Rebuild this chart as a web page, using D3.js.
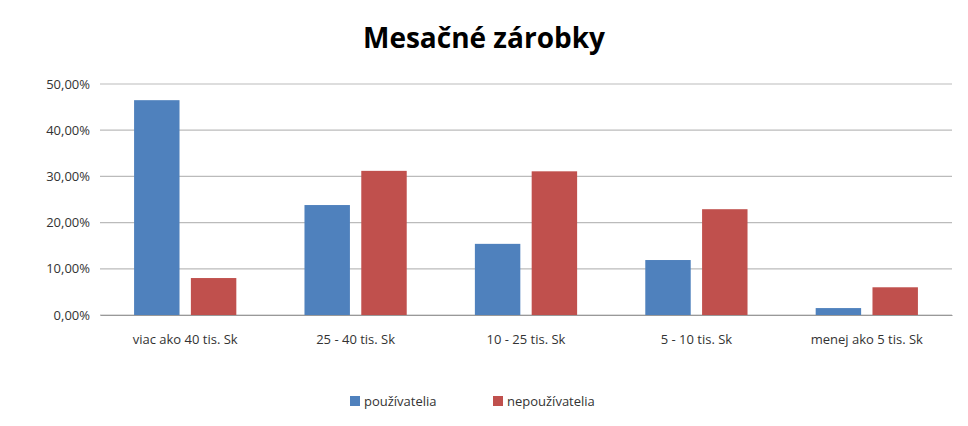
<!DOCTYPE html>
<html><head><meta charset="utf-8">
<script src="https://cdn.jsdelivr.net/npm/d3@7"></script>
<style>body{margin:0;background:#fff}</style></head>
<body><svg id="c" width="968" height="426"></svg>
<script>
const categories=["viac ako 40 tis. Sk","25 - 40 tis. Sk","10 - 25 tis. Sk","5 - 10 tis. Sk","menej ako 5 tis. Sk"];
const seriesNames=["používatelia","nepoužívatelia"];
const pouzivatelia=[46.5,23.8,15.4,11.9,1.5];
const nepouzivatelia=[8.0,31.2,31.1,22.9,6.0];
const yTicks=[0,10,20,30,40,50];
const colors=["#4F81BD","#C0504D"];
const svg=d3.select("#c");
const L=100,R=952,T=84,B=315;
const x=d3.scaleBand().domain(categories).range([L,R]);
const xs=d3.scaleBand().domain(seriesNames).range([0,x.bandwidth()]).paddingInner(0.2).paddingOuter(0.6);
const y=d3.scaleLinear().domain([0,50]).range([B,T]);
const fmt=v=>v.toFixed(2).replace(".",",")+"%";
svg.append("text").attr("x",484).attr("y",48).attr("text-anchor","middle").attr("font-family","Open Sans, sans-serif").attr("font-weight","bold").attr("font-size",28).text("Mesačné zárobky");
const ya=svg.append("g").attr("transform",`translate(${L},0)`).call(d3.axisLeft(y).tickValues(yTicks).tickFormat(fmt).tickSize(0).tickPadding(10));
ya.select(".domain").remove();
ya.selectAll("text").attr("font-family","Open Sans, sans-serif").attr("font-size",13).attr("fill","#333");
svg.append("g").selectAll("line").data(yTicks).join("line").attr("x1",L).attr("x2",R).attr("y1",d=>y(d)).attr("y2",d=>y(d)).attr("stroke","#bbb").attr("stroke-width",1.2);
const data=[pouzivatelia,nepouzivatelia];
data.forEach((arr,si)=>{
 svg.append("g").selectAll("rect").data(arr).join("rect")
  .attr("x",(d,i)=>x(categories[i])+xs(seriesNames[si])).attr("width",xs.bandwidth())
  .attr("y",d=>y(d)).attr("height",d=>B-y(d)).attr("fill",colors[si]);
});
const xa=svg.append("g").attr("transform",`translate(0,${B})`).call(d3.axisBottom(x).tickSize(0).tickPadding(20));
xa.select(".domain").attr("stroke","#999");
xa.selectAll("text").attr("font-family","Open Sans, sans-serif").attr("font-size",13).attr("fill","#333");
const lg=svg.append("g");
[[350,seriesNames[0]],[493,seriesNames[1]]].forEach(([lx,n],i)=>{
 lg.append("rect").attr("x",lx).attr("y",396).attr("width",10).attr("height",10).attr("fill",colors[i]);
 lg.append("text").attr("x",lx+14).attr("y",406).attr("font-family","Open Sans, sans-serif").attr("font-size",13).attr("fill","#333").text(n);
});
</script></body></html>
